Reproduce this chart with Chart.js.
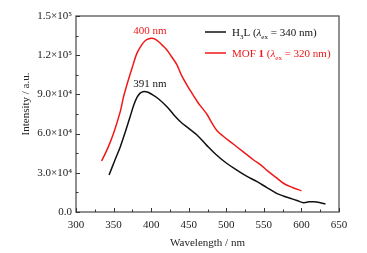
<!DOCTYPE html>
<html>
<head>
<meta charset="utf-8">
<script src="https://cdn.jsdelivr.net/npm/chart.js@4"></script>
<style>
  html, body { margin: 0; padding: 0; background: #fff; }
  #wrap { width: 367px; height: 253px; }
</style>
</head>
<body>
<div id="wrap"><canvas id="plChart"></canvas></div>
<script>
// emission spectra
const h3lWave = [344, 352, 359, 366, 372, 377, 381, 385, 389, 395, 401, 410, 421, 430, 439, 450, 461, 474, 487, 500, 514, 527, 541, 554, 567, 576, 585, 594, 603, 610, 616, 624, 632];
const h3lIntensity = [28300, 40000, 50000, 62000, 72900, 82000, 87500, 90800, 92100, 91800, 90000, 86500, 80600, 74500, 69100, 64000, 58900, 51000, 43600, 37500, 32100, 27500, 23200, 18700, 14300, 12200, 10500, 8800, 7100, 7800, 7900, 7300, 6100];
const mofWave = [334, 342, 350, 359, 363, 367, 374, 381, 387, 392, 397, 401, 405, 410, 415, 421, 427, 434, 441, 452, 462, 468, 474, 481, 488, 496, 506, 516, 526, 536, 545, 555, 566, 576, 588, 600];
const mofIntensity = [39000, 48500, 60200, 77000, 87500, 95900, 109000, 121400, 127500, 131100, 132600, 132900, 132300, 130300, 127500, 124000, 119000, 113000, 104000, 93000, 84000, 79500, 75000, 68000, 62000, 58000, 53500, 49000, 44500, 40000, 36500, 31500, 26500, 22000, 18800, 16300];
const xTicks = [300, 350, 400, 450, 500, 550, 600, 650];
const yTicks = [0, 30000, 60000, 90000, 120000, 150000];
const peakNotes = [
  { text: '400 nm', x: 398.5, y: 138500, color: '#f01818' },
  { text: '391 nm', x: 398.5, y: 98000, color: '#111' }
];

const serif = '"Liberation Serif", "DejaVu Serif", serif';
const supMap = { '0': '\u2070', '1': '\u00b9', '2': '\u00b2', '3': '\u00b3', '4': '\u2074', '5': '\u2075', '6': '\u2076', '7': '\u2077', '8': '\u2078', '9': '\u2079' };

function sciLabel(v) {
  if (v === 0) return '0.0';
  const e = Math.floor(Math.log10(v));
  const m = (v / Math.pow(10, e)).toFixed(1);
  return m + '\u00d710' + String(e).split('').map(c => supMap[c]).join('');
}

// inward ticks, frame, notes, y title and legend
const framePlugin = {
  id: 'frame',
  afterDatasetsDraw(chart) {
    const ctx = chart.ctx;
    const a = chart.chartArea;
    const xs = chart.scales.x, ys = chart.scales.y;
    ctx.save();
    ctx.strokeStyle = '#555';
    ctx.lineWidth = 1.3;
    ctx.strokeRect(a.left, a.top, a.right - a.left, a.bottom - a.top);

    ctx.lineWidth = 1;
    ctx.strokeStyle = '#333';
    for (let v = 300; v <= 650; v += 25) {
      const px = Math.round(xs.getPixelForValue(v)) + 0.5;
      const len = v % 50 === 0 ? 4 : 2.5;
      ctx.beginPath(); ctx.moveTo(px, a.bottom); ctx.lineTo(px, a.bottom - len); ctx.stroke();
    }
    for (let v = 0; v <= 150000; v += 15000) {
      const py = Math.round(ys.getPixelForValue(v)) + 0.5;
      const len = v % 30000 === 0 ? 4 : 2.5;
      ctx.beginPath(); ctx.moveTo(a.left, py); ctx.lineTo(a.left + len, py); ctx.stroke();
    }

    ctx.font = '11px ' + serif;
    ctx.textAlign = 'center';
    ctx.textBaseline = 'middle';
    peakNotes.forEach(n => {
      ctx.fillStyle = n.color;
      ctx.fillText(n.text, xs.getPixelForValue(n.x), ys.getPixelForValue(n.y));
    });

    // y axis title, sits a little above the axis middle in the original
    ctx.save();
    ctx.fillStyle = '#222';
    ctx.translate(26, 104);
    ctx.rotate(-Math.PI / 2);
    ctx.fillText('Intensity / a.u.', 0, 0);
    ctx.restore();

    // legend
    const rows = [
      { color: '#111', y: 32, parts: [['H', 'n'], ['3', 's'], ['L (', 'n'], ['\u03bb', 'i'], ['ex', 's'], [' = 340 nm)', 'n']] },
      { color: '#f01818', y: 53, parts: [['MOF ', 'n'], ['1', 'b'], [' (', 'n'], ['\u03bb', 'i'], ['ex', 's'], [' = 320 nm)', 'n']] }
    ];
    ctx.textAlign = 'left';
    ctx.textBaseline = 'alphabetic';
    rows.forEach(r => {
      ctx.strokeStyle = r.color;
      ctx.lineWidth = 1.5;
      ctx.beginPath(); ctx.moveTo(205, r.y); ctx.lineTo(226, r.y); ctx.stroke();
      ctx.fillStyle = r.color;
      let x = 232;
      const base = r.y + 4;
      r.parts.forEach(([t, s]) => {
        let yy = base;
        if (s === 's') { ctx.font = '7px ' + serif; yy = base + 2.5; }
        else if (s === 'i') ctx.font = 'italic 11px ' + serif;
        else if (s === 'b') ctx.font = 'bold 11px ' + serif;
        else ctx.font = '11px ' + serif;
        ctx.fillText(t, x, yy);
        x += ctx.measureText(t).width;
      });
    });
    ctx.restore();
  }
};

new Chart(document.getElementById('plChart').getContext('2d'), {
  type: 'line',
  data: {
    datasets: [
      {
        label: 'H3L',
        data: h3lWave.map((w, i) => ({ x: w, y: h3lIntensity[i] })),
        borderColor: '#111',
        borderWidth: 1.5,
        pointRadius: 0,
        tension: 0.35,
        fill: false
      },
      {
        label: 'MOF 1',
        data: mofWave.map((w, i) => ({ x: w, y: mofIntensity[i] })),
        borderColor: '#f01818',
        borderWidth: 1.5,
        pointRadius: 0,
        tension: 0.35,
        fill: false
      }
    ]
  },
  options: {
    responsive: true,
    maintainAspectRatio: false,
    animation: false,
    layout: { padding: { top: 16, right: 28, left: 0, bottom: 0 } },
    plugins: {
      legend: { display: false },
      tooltip: { enabled: false }
    },
    scales: {
      x: {
        type: 'linear',
        min: 300,
        max: 650,
        afterFit: s => { s.height = 41; },
        afterBuildTicks: s => { s.ticks = xTicks.map(v => ({ value: v })); },
        grid: { display: false, drawTicks: false },
        border: { display: false },
        ticks: { color: '#222', padding: 7, maxRotation: 0, font: { family: serif, size: 11 } },
        title: { display: true, text: 'Wavelength / nm', color: '#222', padding: { top: 2, bottom: 3 }, font: { family: serif, size: 11 } }
      },
      y: {
        min: 0,
        max: 150000,
        afterFit: s => { s.width = 76; },
        afterBuildTicks: s => { s.ticks = yTicks.map(v => ({ value: v })); },
        grid: { display: false, drawTicks: false },
        border: { display: false },
        ticks: { color: '#222', padding: 4, callback: v => sciLabel(v), font: { family: serif, size: 11 } }
      }
    }
  },
  plugins: [framePlugin]
});
</script>
</body>
</html>
